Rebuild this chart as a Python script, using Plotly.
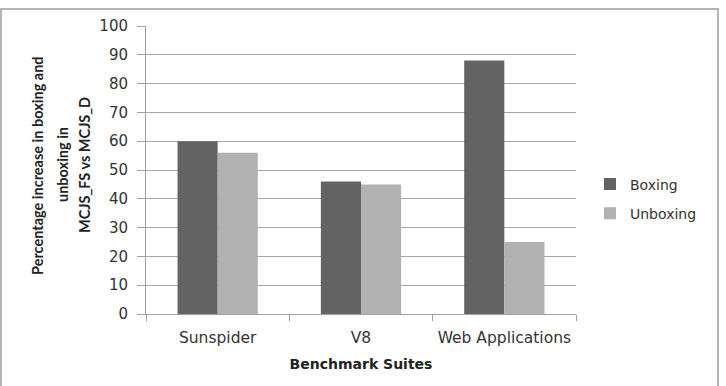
import plotly.graph_objects as go

categories = ["Sunspider", "V8", "Web Applications"]
boxing = [60, 46, 88]
unboxing = [56, 45, 25]
series_names = ["Boxing", "Unboxing"]
y_ticks = list(range(0, 101, 10))
x_title = "Benchmark Suites"
y_title_lines = ["Percentage increase in boxing and", "unboxing in", "MCJS_FS vs MCJS_D"]

W, H = 726, 386
L, R, T, B = 146, 150, 26, 72
PW, PH = W - L - R, H - T - B

def px(x):
    return (x - L) / PW

def py(y):
    return (H - B - y) / PH

TXT = "#333333"
FONT = "DejaVu Sans"

fig = go.Figure()
fig.add_trace(go.Bar(x=categories, y=boxing, name=series_names[0],
                     marker=dict(color="#636363", line=dict(width=0)),
                     legendgroup="a"))
fig.add_trace(go.Bar(x=categories, y=unboxing, name=series_names[1],
                     marker=dict(color="#b2b2b2", line=dict(width=0)),
                     legendgroup="b"))

fig.update_layout(
    width=W, height=H,
    margin=dict(l=L, r=R, t=T, b=B, pad=0),
    paper_bgcolor="white", plot_bgcolor="white",
    barmode="group", bargap=0.44, bargroupgap=0,
    font=dict(family=FONT, size=14, color=TXT),
    showlegend=True,
    legend=dict(x=px(590), xanchor="left", y=py(199), yanchor="middle",
                font=dict(family=FONT, size=14, color=TXT),
                traceorder="grouped", tracegroupgap=8,
                itemwidth=30, bgcolor="rgba(0,0,0,0)"),
    xaxis=dict(showline=True, linecolor="#a0a0a0", linewidth=1,
               ticks="outside", tickson="boundaries", ticklen=6,
               tickcolor="#a0a0a0", showgrid=False, ticklabelstandoff=9,
               tickfont=dict(family=FONT, size=15.5, color=TXT),
               title=dict(text="<b>" + x_title + "</b>", standoff=13,
                          font=dict(family=FONT, size=14, color="#222222"))),
    yaxis=dict(range=[0, 100], tickvals=y_ticks, showline=True,
               linecolor="#a0a0a0", linewidth=1, ticks="outside",
               ticklen=8, tickcolor="#a0a0a0", showgrid=True,
               gridcolor="#a6a6a6", gridwidth=1, zeroline=False,
               ticklabelstandoff=6,
               tickfont=dict(family=FONT, size=15, color=TXT)),
)

# rotated multi-line y-axis title
for xc, line in zip([37, 62, 84], y_title_lines):
    fig.add_annotation(text="<b>" + line + "</b>", textangle=-90,
                       xref="paper", yref="paper", x=px(xc), y=py(165),
                       xanchor="center", yanchor="middle", showarrow=False,
                       font=dict(family="Lato", size=14.5, color="#222222"))

# outer chart frame
fig.add_shape(type="rect", xref="paper", yref="paper",
              x0=px(1), x1=px(718), y0=py(395), y1=py(9),
              line=dict(color="#b4b4b4", width=2), layer="below")

fig.write_html("out.html")
